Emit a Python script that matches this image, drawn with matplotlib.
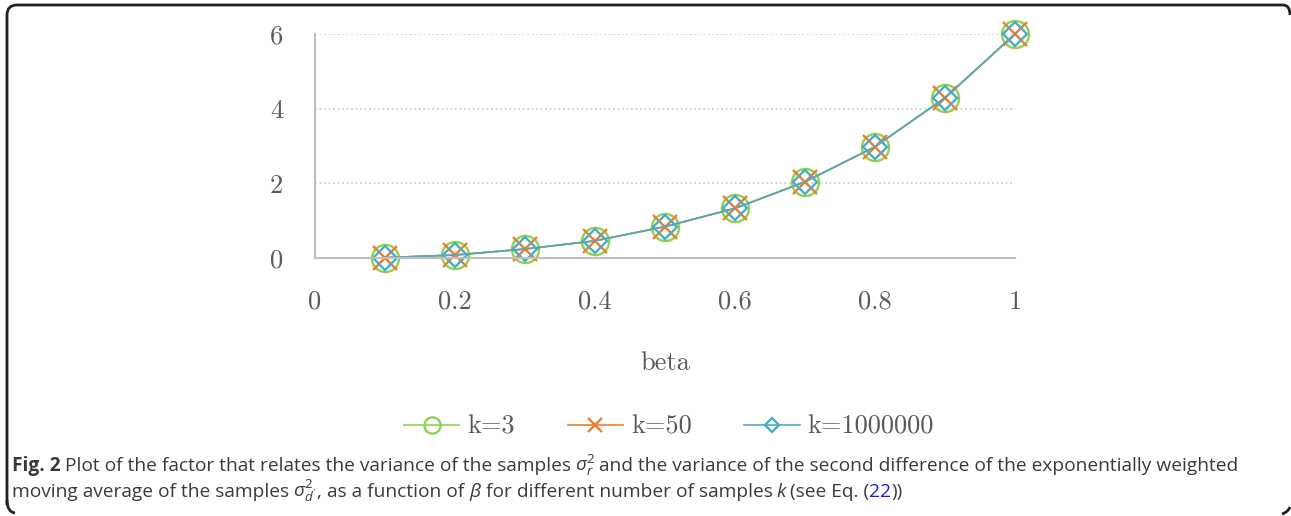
#!/usr/bin/env python3
import matplotlib
matplotlib.use("Agg")
import matplotlib.pyplot as plt
from matplotlib.path import Path
from matplotlib.patches import PathPatch

# data
beta = [0.1, 0.2, 0.3, 0.4, 0.5, 0.6, 0.7, 0.8, 0.9, 1.0]
k3 = [0.01, 0.08, 0.24, 0.46, 0.84, 1.33, 2.04, 2.98, 4.29, 6.0]
k50 = [0.01, 0.08, 0.24, 0.46, 0.84, 1.33, 2.04, 2.98, 4.29, 6.0]
k1000000 = [0.01, 0.08, 0.24, 0.46, 0.84, 1.33, 2.04, 2.98, 4.29, 6.0]
labels = ["k=3", "k=50", "k=1000000"]
xticks = [0, 0.2, 0.4, 0.6, 0.8, 1]
xticklabels = ["0", "0.2", "0.4", "0.6", "0.8", "1"]
yticks = [0, 2, 4, 6]
yticklabels = ["0", "2", "4", "6"]

plt.rcParams['mathtext.fontset'] = 'custom'
plt.rcParams['mathtext.rm'] = 'Open Sans'
plt.rcParams['mathtext.it'] = 'Open Sans:italic'
plt.rcParams['mathtext.bf'] = 'Open Sans:bold'

W, H = 1291, 516
fig = plt.figure(figsize=(W / 100, H / 100), dpi=100)
ax = fig.add_axes([315 / W, 1 - 258 / H, 700 / W, 224 / H])

txt_gray = "#595959"
serif = "cmr10"
fs = 19

styles = [
    (k3, "#92D050", "o", 19.5),
    (k50, "#ED7D31", "x", 17.5),
    (k1000000, "#4BACC6", "D", 12),
]
for (vals, col, mk, ms), lab in zip(styles, labels):
    ax.plot(beta, vals, color=col, lw=1.2, marker=mk, ms=ms, mfc="none",
            mec=col, mew=1.7, label=lab, clip_on=False)

ax.set_xlim(0, 1)
ax.set_ylim(0, 6)
ax.set_xticks(xticks)
ax.set_xticklabels(xticklabels, fontfamily=serif, fontsize=fs, color=txt_gray)
ax.set_yticks(yticks)
ax.set_yticklabels(yticklabels, fontfamily=serif, fontsize=fs, color=txt_gray)
ax.tick_params(axis="both", length=0)
ax.tick_params(axis="x", pad=23)
ax.tick_params(axis="y", pad=23)
for s in ["top", "right"]:
    ax.spines[s].set_visible(False)
for s in ["left", "bottom"]:
    ax.spines[s].set_color("#BFBFBF")
    ax.spines[s].set_linewidth(1.5)
ax.yaxis.grid(True, color="#D0D0D0", ls=(0, (1, 1.5)), lw=1.3)
ax.set_axisbelow(True)

ax.set_xlabel("beta", fontfamily=serif, fontsize=fs, color=txt_gray, labelpad=27)

ax.legend(loc="center", bbox_to_anchor=(669 / W, 1 - 427 / H),
          bbox_transform=fig.transFigure, ncol=3, frameon=False,
          prop={"family": serif, "size": fs}, labelcolor=txt_gray,
          handlelength=2.1, handletextpad=0.3, columnspacing=2.0,
          markerscale=0.6)

# frame round the figure (only partly drawn in the original)
def px(x, y):
    return (x / W, 1 - y / H)

r = 10
verts = [px(7, 505), px(7, 5 + r), px(7, 5), px(7 + r, 5),
         px(1283, 5), px(1290, 5), px(1290, 15)]
codes = [Path.MOVETO, Path.LINETO, Path.CURVE3, Path.CURVE3,
         Path.LINETO, Path.CURVE3, Path.CURVE3]
fig.add_artist(PathPatch(Path(verts, codes), fc="none", ec="#222222", lw=2,
                         transform=fig.transFigure))
verts2 = [px(7, 500), px(7, 512), px(15, 513)]
codes2 = [Path.MOVETO, Path.CURVE3, Path.CURVE3]
fig.add_artist(PathPatch(Path(verts2, codes2), fc="none", ec="#222222", lw=2,
                         transform=fig.transFigure))
verts3 = [px(1282, 514), px(1288, 512), px(1290, 507)]
fig.add_artist(PathPatch(Path(verts3, codes2), fc="none", ec="#222222", lw=2,
                         transform=fig.transFigure))

# caption, written piece by piece
cap_color = "#3A3A3A"
link_color = "#1A1AE6"
cap_fs = 13.75
line1 = [
    ("Fig. 2", cap_color, "bold"),
    (" Plot of the factor that relates the variance of the samples ", cap_color, "normal"),
    (r"$\mathit{\sigma}_{r}^{2}$", cap_color, "normal"),
    (" and the variance of the second difference of the exponentially weighted",
     cap_color, "normal"),
]
line2 = [
    ("moving average of the samples ", cap_color, "normal"),
    (r"$\mathit{\sigma}_{d'}^{2}$", cap_color, "normal"),
    (", as a function of ", cap_color, "normal"),
    (r"$\mathit{\beta}$", cap_color, "normal"),
    (" for different number of samples ", cap_color, "normal"),
    ("k", cap_color, "italic"),
    (" (see Eq. (", cap_color, "normal"),
    ("22", link_color, "normal"),
    ("))", cap_color, "normal"),
]

renderer = fig.canvas.get_renderer()
for line, ybase in [(line1, 471), (line2, 497)]:
    x0 = 12
    for s, col, style in line:
        kw = dict(fontfamily="Open Sans", fontsize=cap_fs, color=col,
                  va="baseline", ha="left")
        if style == "bold":
            kw["fontweight"] = "bold"
        if style == "italic":
            kw["fontstyle"] = "italic"
        if s.startswith(" "):
            x0 += 4
        t = fig.text(x0 / W, 1 - ybase / H, s.strip(), **kw)
        bb = t.get_window_extent(renderer)
        x0 = bb.x1 + (4 if s.endswith(" ") else 0)

fig.savefig("out.png", dpi=100)
